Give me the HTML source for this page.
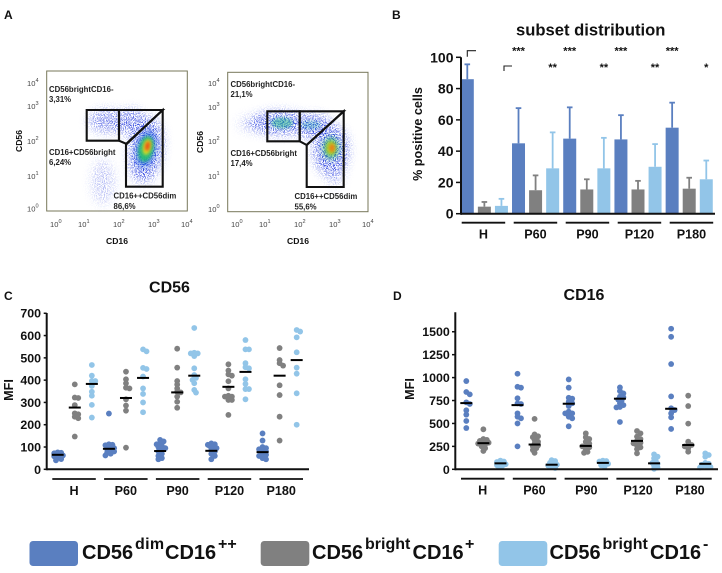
<!DOCTYPE html>
<html lang="en">
<head>
<meta charset="utf-8">
<title>NK cell subset figure</title>
<style>
html,body{margin:0;padding:0;background:#fff;}
svg{display:block;font-family:"Liberation Sans",Arial,sans-serif;}
.letter{font-size:12px;font-weight:bold;fill:#111;}
.ft{font-size:7.6px;fill:#444;}
.fs{font-size:5.6px;fill:#444;}
.fl{font-size:7.8px;font-weight:bold;fill:#222;}
.fa{font-size:8.6px;font-weight:bold;fill:#111;}
.lg{font-size:20px;font-weight:bold;fill:#111;}
.ls{font-size:16px;font-weight:bold;fill:#111;}
</style>
</head>
<body>
<svg id="fig" width="722" height="573" viewBox="0 0 722 573" xmlns="http://www.w3.org/2000/svg">
<defs>
<filter id="speck" x="-30%" y="-30%" width="160%" height="160%">
<feGaussianBlur in="SourceGraphic" stdDeviation="5" result="b"/>
<feTurbulence type="fractalNoise" baseFrequency="0.9" numOctaves="2" seed="4" result="t"/>
<feColorMatrix in="t" type="matrix" values="0 0 0 0 0  0 0 0 0 0  0 0 0 0 0  9 0 0 0 -4.3" result="n"/>
<feComposite in="b" in2="n" operator="in" result="c"/>
<feGaussianBlur in="c" stdDeviation="0.25"/>
</filter>
<filter id="soft" x="-50%" y="-50%" width="200%" height="200%"><feGaussianBlur stdDeviation="3"/></filter>
<filter id="soft2" x="-50%" y="-50%" width="200%" height="200%"><feGaussianBlur stdDeviation="1.6"/></filter>
</defs>
<rect x="0" y="0" width="722" height="573" fill="#fff"/>

<text class="letter" x="4" y="19">A</text>
<text class="letter" x="392" y="19">B</text>
<text class="letter" x="4" y="300">C</text>
<text class="letter" x="393" y="300">D</text>

<!-- Flow plot 1 -->
<g>
<rect x="46.7" y="71" width="140.6" height="140" fill="#fff" stroke="#77775a" stroke-width="1"/>
<g>
<g filter="url(#speck)" fill="#2c40e0">
<ellipse cx="107" cy="121" rx="18" ry="11" opacity=".75"/>
<ellipse cx="131" cy="122" rx="15" ry="12" opacity=".85"/>
<ellipse cx="146" cy="150" rx="16" ry="32" transform="rotate(8 146 150)"/>
<ellipse cx="103" cy="182" rx="11" ry="22" opacity=".35"/>
</g>
<ellipse cx="146" cy="149" rx="10" ry="19" fill="#2060e0" opacity=".6" filter="url(#soft)" transform="rotate(12 146 149)"/>
<ellipse cx="146" cy="149" rx="7.5" ry="13" fill="#20c070" opacity=".9" filter="url(#soft2)" transform="rotate(12 146 149)"/>
<ellipse cx="147" cy="147" rx="4.2" ry="8" fill="#d8e020" filter="url(#soft2)" transform="rotate(12 147 147)"/>
<ellipse cx="147.500" cy="146" rx="2.400" ry="5" fill="#ee4a18" filter="url(#soft2)" transform="rotate(12 147 146)"/>
</g>
<path d="M86.700 110H119V140.700H86.700Z" fill="none" stroke="#111" stroke-width="2.100"/>
<path d="M119 110H162.700L126.700 144L119 140.700Z" fill="none" stroke="#111" stroke-width="2.100"/>
<path d="M162.700 110V186.700H126V144Z" fill="none" stroke="#111" stroke-width="2.100"/>
<text class="fl" x="49" y="92">CD56brightCD16-</text>
<text class="fl" x="49" y="102">3,31%</text>
<text class="fl" x="49" y="155">CD16+CD56bright</text>
<text class="fl" x="49" y="165">6,24%</text>
<text class="fl" x="113.500" y="198.500">CD16++CD56dim</text>
<text class="fl" x="113.500" y="209">86,6%</text>
<g>
<text class="ft" x="27" y="86">10<tspan class="fs" dy="-4">4</tspan></text>
<text class="ft" x="27" y="109">10<tspan class="fs" dy="-4">3</tspan></text>
<text class="ft" x="27" y="144">10<tspan class="fs" dy="-4">2</tspan></text>
<text class="ft" x="27" y="179">10<tspan class="fs" dy="-4">1</tspan></text>
<text class="ft" x="27" y="211.500">10<tspan class="fs" dy="-4">0</tspan></text>
</g>
<g>
<text class="ft" x="50" y="227">10<tspan class="fs" dy="-4">0</tspan></text>
<text class="ft" x="78" y="227">10<tspan class="fs" dy="-4">1</tspan></text>
<text class="ft" x="113" y="227">10<tspan class="fs" dy="-4">2</tspan></text>
<text class="ft" x="148" y="227">10<tspan class="fs" dy="-4">3</tspan></text>
<text class="ft" x="181" y="227">10<tspan class="fs" dy="-4">4</tspan></text>
</g>
<text class="fa" x="117" y="244" text-anchor="middle">CD16</text>
<text class="fa" x="22" y="141" text-anchor="middle" transform="rotate(-90 22 141)">CD56</text>
</g>

<!-- Flow plot 2 -->
<g>
<rect x="227.700" y="72.300" width="140.300" height="139.400" fill="#fff" stroke="#77775a" stroke-width="1"/>
<g>
<g filter="url(#speck)" fill="#2c40e0">
<ellipse cx="280" cy="123" rx="30" ry="11"/>
<ellipse cx="313" cy="126" rx="18" ry="11"/>
<ellipse cx="331" cy="150" rx="17" ry="25"/>
<ellipse cx="250" cy="124" rx="12" ry="7" opacity=".3"/>
<ellipse cx="335" cy="172" rx="8" ry="14" opacity=".45"/>
</g>
<ellipse cx="282" cy="123" rx="11" ry="5.500" fill="#22b090" opacity=".55" filter="url(#soft2)"/>
<ellipse cx="311" cy="125" rx="10" ry="4.500" fill="#22a0b0" opacity=".35" filter="url(#soft2)"/>
<ellipse cx="331" cy="148" rx="8" ry="11" fill="#20b070" opacity=".7" filter="url(#soft)"/>
<ellipse cx="331" cy="148" rx="5" ry="7" fill="#b8d820" opacity=".9" filter="url(#soft2)"/>
<ellipse cx="332" cy="148" rx="2.800" ry="4.200" fill="#ee7a18" filter="url(#soft2)"/>
</g>
<path d="M267.300 111.300H299.700V141.300H267.300Z" fill="none" stroke="#111" stroke-width="2.100"/>
<path d="M299.700 111.300H343.700L306.700 145L299.700 141.300Z" fill="none" stroke="#111" stroke-width="2.100"/>
<path d="M343.700 111.300V187H306.700V145Z" fill="none" stroke="#111" stroke-width="2.100"/>
<text class="fl" x="230.500" y="87">CD56brightCD16-</text>
<text class="fl" x="230.500" y="97">21,1%</text>
<text class="fl" x="230.500" y="156">CD16+CD56bright</text>
<text class="fl" x="230.500" y="166">17,4%</text>
<text class="fl" x="294.500" y="199">CD16++CD56dim</text>
<text class="fl" x="294.500" y="209.500">55,6%</text>
<g>
<text class="ft" x="208" y="86">10<tspan class="fs" dy="-4">4</tspan></text>
<text class="ft" x="208" y="110">10<tspan class="fs" dy="-4">3</tspan></text>
<text class="ft" x="208" y="144">10<tspan class="fs" dy="-4">2</tspan></text>
<text class="ft" x="208" y="179">10<tspan class="fs" dy="-4">1</tspan></text>
<text class="ft" x="208" y="212">10<tspan class="fs" dy="-4">0</tspan></text>
</g>
<g>
<text class="ft" x="231" y="227">10<tspan class="fs" dy="-4">0</tspan></text>
<text class="ft" x="259" y="227">10<tspan class="fs" dy="-4">1</tspan></text>
<text class="ft" x="294" y="227">10<tspan class="fs" dy="-4">2</tspan></text>
<text class="ft" x="329" y="227">10<tspan class="fs" dy="-4">3</tspan></text>
<text class="ft" x="362" y="227">10<tspan class="fs" dy="-4">4</tspan></text>
</g>
<text class="fa" x="298" y="244" text-anchor="middle">CD16</text>
<text class="fa" x="203" y="142" text-anchor="middle" transform="rotate(-90 203 142)">CD56</text>
</g>

<g id="panelB"></g>
<g id="panelC"></g>
<g id="panelD"></g>

<!-- Legend -->
<g>
<g>
<rect x="29.500" y="541" width="48.500" height="25" rx="3.500" fill="#5a7fc0"/>
<text class="lg" x="82" y="559">CD56</text><text class="ls" x="135" y="549" letter-spacing="0.300">dim</text><text class="lg" x="165" y="559">CD16</text><text class="ls" x="218" y="549">++</text>
</g>
<g>
<rect x="260.700" y="541" width="48.600" height="25" rx="3.500" fill="#808080"/>
<text class="lg" x="312" y="559">CD56</text><text class="ls" x="365" y="549">bright</text><text class="lg" x="412.500" y="559">CD16</text><text class="ls" x="465" y="549">+</text>
</g>
<g>
<rect x="498.700" y="541" width="48.600" height="25" rx="3.500" fill="#92c5e8"/>
<text class="lg" x="549.500" y="559">CD56</text><text class="ls" x="602.500" y="549">bright</text><text class="lg" x="650" y="559">CD16</text><text class="ls" x="703" y="549">-</text>
</g>
</g>
</svg>

<script>
// ---- shared categories and colours ----
const groupLabels = ['H', 'P60', 'P90', 'P120', 'P180'];
const seriesColors = ['#5a7fc0', '#808080', '#92c5e8'];

// ---- Panel B values ----
const barDimMeans = [86, 45, 48, 47.5, 55];
const barBrightPosMeans = [4.5, 15, 15.5, 15.5, 16];
const barBrightNegMeans = [5, 29, 29, 30, 22];
const barDimUpper = [95.5, 67.5, 68, 63, 71];
const barBrightPosUpper = [7.5, 24.5, 22, 21, 23];
const barBrightNegUpper = [9.5, 52, 48.5, 44.5, 34];
const barTicks = [0, 20, 40, 60, 80, 100];

// ---- Panel C values ----
const cd56Ticks = [0, 100, 200, 300, 400, 500, 600, 700];
const cd56Dim = [
  [76, 74, 72, 70, 68, 66, 62, 58, 52, 46, 40],
  [250, 112, 110, 108, 105, 100, 95, 90, 85, 80, 75, 70, 62],
  [132, 125, 118, 112, 105, 100, 95, 90, 80, 70, 60, 50, 45],
  [116, 112, 110, 105, 100, 95, 85, 80, 70, 60, 45],
  [161, 129, 100, 95, 90, 85, 80, 70, 65, 60, 50, 45]
];
const cd56BrightPos = [
  [381, 322, 320, 288, 251, 247, 236, 229, 147],
  [438, 404, 386, 366, 363, 314, 286, 263, 97],
  [541, 456, 396, 380, 363, 348, 345, 326, 303, 276],
  [471, 443, 426, 420, 395, 363, 330, 326, 326, 311, 311, 244],
  [544, 490, 476, 465, 377, 333, 236, 129]
];
const cd56BrightNeg = [
  [468, 420, 396, 396, 374, 348, 330, 289, 232],
  [538, 529, 455, 450, 416, 363, 338, 300, 256],
  [634, 523, 520, 520, 508, 453, 423, 410, 401, 386, 356, 344],
  [580, 538, 538, 476, 458, 453, 404, 383, 360, 360, 314],
  [625, 618, 592, 525, 456, 429, 341, 200]
];
const cd56DimMeans = [65, 92, 82, 83, 77];
const cd56BrightPosMeans = [277, 320, 345, 370, 420];
const cd56BrightNegMeans = [383, 410, 420, 437, 490];

// ---- Panel D values ----
const cd16Ticks = [0, 250, 500, 750, 1000, 1250, 1500];
const cd16Dim = [
  [962, 843, 817, 730, 712, 643, 596, 527, 450],
  [1042, 900, 890, 774, 719, 712, 610, 574, 556, 500, 250],
  [980, 890, 780, 770, 737, 720, 690, 628, 610, 610, 574, 556, 469],
  [893, 853, 828, 792, 785, 760, 750, 720, 700, 680, 675, 516],
  [1533, 1445, 1148, 795, 665, 646, 610, 567, 440]
];
const cd16BrightPos = [
  [436, 330, 320, 310, 300, 290, 280, 270, 250, 230, 200],
  [550, 380, 360, 350, 320, 300, 280, 260, 250, 230, 210, 180],
  [392, 350, 330, 300, 280, 260, 250, 240, 220, 190, 180],
  [418, 392, 356, 330, 310, 290, 283, 260, 240, 220, 174],
  [803, 690, 498, 301, 265, 265, 250, 230, 192]
];
const cd16BrightNeg = [
  [95, 85, 80, 75, 65, 60, 55, 45, 35, 25],
  [100, 90, 70, 60, 50, 40, 30, 15],
  [95, 90, 85, 80, 75, 70, 60, 45, 30],
  [163, 138, 120, 90, 70, 60, 40, 20, 5],
  [174, 156, 138, 70, 60, 50, 40, 30, 25, 20]
];
const cd16DimMeans = [722, 700, 715, 770, 660];
const cd16BrightPosMeans = [285, 270, 255, 310, 265];
const cd16BrightNegMeans = [65, 50, 70, 65, 60];

// ---- Significance labels ----
const upperStars = ['***', '***', '***', '***'];
const lowerStars = ['**', '**', '**', '*'];

// ---- helpers ----
const NS = 'http://www.w3.org/2000/svg';
const STEP = 17.07;
function add(parent, tag, attrs, text) {
  const el = document.createElementNS(NS, tag);
  for (const k in attrs) el.setAttribute(k, attrs[k]);
  if (text !== undefined) el.textContent = text;
  parent.appendChild(el);
  return el;
}
function slot(start, g, s) { return start + (g * 3 + s) * STEP; }

// beeswarm offsets derived from pixel y positions
function swarm(ys, radius) {
  const placed = [];
  const spread = radius * 0.6;
  return ys.map(function (y) {
    let best = null;
    for (let i = 0; i <= 6 && best === null; i++) {
      const cand = (i % 2 ? 1 : -1) * Math.ceil(i / 2) * spread;
      const clear = placed.every(function (p) {
        const dx = p.x - cand, dy = p.y - y;
        return dx * dx + dy * dy >= radius * radius * 1.1;
      });
      if (clear) best = cand;
    }
    if (best === null) best = (placed.length % 3 - 1) * spread;
    placed.push({ x: best, y: y });
    return best;
  });
}

// ---- shared y-axis drawing ----
function drawAxis(root, cfg) {
  const yAxis = add(root, 'line', { x1: cfg.axisX, x2: cfg.axisX, y1: cfg.top, y2: cfg.base + 1, stroke: '#111', 'stroke-width': 2 });
  
  
  const xAxis = add(root, 'line', { x1: cfg.axisX, x2: cfg.axisEnd, y1: cfg.base, y2: cfg.base, stroke: '#111', 'stroke-width': 2 });
  
  
  cfg.ticks.forEach(function (t) {
    const y = cfg.y(t);
    const mark = add(root, 'line', { x1: cfg.axisX - cfg.tickLen, x2: cfg.axisX, y1: y, y2: y, stroke: '#111', 'stroke-width': 1.5 });
    
    
    const lab = add(root, 'text', { x: cfg.labelX, y: y + cfg.tickFont * 0.36, 'text-anchor': 'end', 'font-size': cfg.tickFont, 'font-weight': 'bold', fill: '#111' }, String(t));
    
    
  });
  groupLabels.forEach(function (g, i) {
    const x1 = cfg.groupX + i * cfg.groupStep[0];
    const rule = add(root, 'line', { x1: x1, x2: x1 + 43.5, y1: cfg.ruleY, y2: cfg.ruleY, stroke: '#111', 'stroke-width': 1.8 });
    
    
    const lab = add(root, 'text', { x: x1 + 21.7, y: cfg.ruleY + 15.8, 'text-anchor': 'middle', 'font-size': 12.6, 'font-weight': 'bold', fill: '#111' }, g);
    
    
  });
}

// ---- Panel B ----
(function () {
  const root = document.getElementById('panelB');
  const y = function (v) { return 213.7 - v * 1.564; };
  const means = [barDimMeans, barBrightPosMeans, barBrightNegMeans];
  const uppers = [barDimUpper, barBrightPosUpper, barBrightNegUpper];
  const title = add(root, 'text', { x: 590.7, y: 35.5, 'text-anchor': 'middle', 'font-size': 16.6, 'font-weight': 'bold', fill: '#111' }, 'subset distribution');
  
  
  const yt = add(root, 'text', { x: 422, y: 134, 'text-anchor': 'middle', 'font-size': 12.6, 'font-weight': 'bold', fill: '#111', transform: 'rotate(-90 422 134)' }, '% positive cells');
  
  

  means.forEach(function (series, s) {
    series.forEach(function (v, g) {
      const cx = slot(467.3, g, s);
      const stem = add(root, 'line', { x1: cx, x2: cx, y1: y(uppers[s][g]), y2: y(v), stroke: seriesColors[s], 'stroke-width': 1.8 });
      
      
      const cap = add(root, 'line', { x1: cx - 2.8, x2: cx + 2.8, y1: y(uppers[s][g]), y2: y(uppers[s][g]), stroke: seriesColors[s], 'stroke-width': 1.8 });
      
      
      const bar = add(root, 'rect', { x: cx - 6.5, y: y(v), width: 13, height: y(0) - y(v), fill: seriesColors[s] });
      
      
    });
  });

  drawAxis(root, { axisX: 461, axisEnd: 715, base: 213.7, top: 57.3, ticks: barTicks, y: y, tickLen: 5, labelX: 453.5, tickFont: 14, groupX: 461.7, groupStep: [52], ruleY: 222.7 });

  upperStars.forEach(function (t, i) {
    const st = add(root, 'text', { x: slot(467.3, i + 1, 0), y: 54.5, 'text-anchor': 'middle', 'font-size': 11, 'font-weight': 'bold', fill: '#111' }, t);
    
    
  });
  lowerStars.forEach(function (t, i) {
    const st = add(root, 'text', { x: slot(467.3, i + 1, 2), y: 71, 'text-anchor': 'middle', 'font-size': 11, 'font-weight': 'bold', fill: '#111' }, t);
    
    
  });
  const b1 = add(root, 'path', { d: 'M467.3 56.7V50.7H476', fill: 'none', stroke: '#222', 'stroke-width': 1.1 });
  
  
  const b2 = add(root, 'path', { d: 'M504 71V66H512', fill: 'none', stroke: '#222', 'stroke-width': 1.1 });
  
  
})();

// ---- Scatter panels ----
function drawScatter(root, cfg) {
  cfg.series.forEach(function (series, s) {
    series.forEach(function (vals, g) {
      const cx = slot(cfg.start, g, s);
      const ys = vals.map(cfg.y);
      const offs = swarm(ys, 2.9);
      ys.forEach(function (py, i) {
        const dot = add(root, 'circle', { cx: cx + offs[i], cy: py, r: 2.9, fill: seriesColors[s] });
        
        
      });
    });
  });
  cfg.means.forEach(function (series, s) {
    series.forEach(function (v, g) {
      const cx = slot(cfg.start, g, s);
      const m = add(root, 'rect', { x: cx - 6, y: cfg.y(v) - 1, width: 12, height: 2, fill: '#000' });
      
      
    });
  });
}

(function () {
  const root = document.getElementById('panelC');
  const y = function (v) { return 469.3 - v * 0.2229; };
  const title = add(root, 'text', { x: 169.5, y: 292.5, 'text-anchor': 'middle', 'font-size': 16, 'font-weight': 'bold', fill: '#111' }, 'CD56');
  
  
  const yt = add(root, 'text', { x: 13, y: 390, 'text-anchor': 'middle', 'font-size': 12.6, 'font-weight': 'bold', fill: '#111', transform: 'rotate(-90 13 390)' }, 'MFI');
  
  
  drawScatter(root, { start: 57.7, y: y, series: [cd56Dim, cd56BrightPos, cd56BrightNeg], means: [cd56DimMeans, cd56BrightPosMeans, cd56BrightNegMeans] });
  drawAxis(root, { axisX: 46.7, axisEnd: 309, base: 469.3, top: 313, ticks: cd56Ticks, y: y, tickLen: 3, labelX: 41, tickFont: 12.4, groupX: 52.3, groupStep: [51.8], ruleY: 479 });
})();

(function () {
  const root = document.getElementById('panelD');
  const y = function (v) { return 469.3 - v * 0.0917; };
  const title = add(root, 'text', { x: 584, y: 300, 'text-anchor': 'middle', 'font-size': 16, 'font-weight': 'bold', fill: '#111' }, 'CD16');
  
  
  const yt = add(root, 'text', { x: 414, y: 389, 'text-anchor': 'middle', 'font-size': 12.6, 'font-weight': 'bold', fill: '#111', transform: 'rotate(-90 414 389)' }, 'MFI');
  
  
  drawScatter(root, { start: 466.3, y: y, series: [cd16Dim, cd16BrightPos, cd16BrightNeg], means: [cd16DimMeans, cd16BrightPosMeans, cd16BrightNegMeans] });
  drawAxis(root, { axisX: 455.3, axisEnd: 718, base: 469.3, top: 312.3, ticks: cd16Ticks, y: y, tickLen: 3.3, labelX: 449.8, tickFont: 12.4, groupX: 461, groupStep: [51.8], ruleY: 478.7 });
})();
</script>
</body>
</html>
